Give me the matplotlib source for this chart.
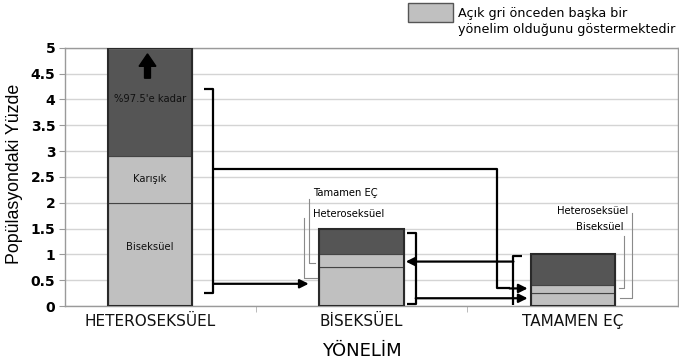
import matplotlib
matplotlib.use("Agg")
import matplotlib.pyplot as plt
from matplotlib.patches import Rectangle, FancyArrow

# ---------------- data ----------------
categories = ["HETEROSEKSÜEL", "BİSEKSÜEL", "TAMAMEN EÇ"]
# stacked segments (bottom -> top), value = segment height
hetero_segments = [2.0, 0.9, 94.6]          # Biseksüel, Karışık, up to 97.5
biseks_segments = [0.75, 0.25, 0.5]         # Heteroseksüel, Tamamen EÇ, own
tamamen_segments = [0.25, 0.15, 0.6]        # Heteroseksüel, Biseksüel, own
segment_kinds = [["light", "light", "dark"],
                 ["light", "light", "dark"],
                 ["light", "light", "dark"]]
yticks = [0, 0.5, 1, 1.5, 2, 2.5, 3, 3.5, 4, 4.5, 5]
ytick_labels = ["0", "0.5", "1", "1.5", "2", "2.5", "3", "3.5", "4", "4.5", "5"]

LIGHT = "#c0c0c0"
DARK = "#555555"
EDGE = "#2a2a2a"

W, H = 679, 361
fig = plt.figure(figsize=(W / 100, H / 100), dpi=100)
ax = fig.add_axes([65 / W, 1 - 306 / H, (678 - 65) / W, (306 - 47.7) / H])

ax.set_xlim(-0.402, 2.496)
ax.set_ylim(0, 5)

# grid
for y in yticks:
    ax.axhline(y, color="#d4d4d4", lw=1, zorder=0)

bar_w = 0.40
all_segments = [hetero_segments, biseks_segments, tamamen_segments]
for i, segs in enumerate(all_segments):
    bottom = 0
    for s, kind in zip(segs, segment_kinds[i]):
        col = LIGHT if kind == "light" else DARK
        ax.bar(i, s, bottom=bottom, width=bar_w, color=col,
               edgecolor="#444444", linewidth=0.8, zorder=2)
        bottom += s
    top = min(bottom, 5)
    ax.add_patch(Rectangle((i - bar_w / 2, 0), bar_w, top, fill=False,
                           edgecolor=EDGE, linewidth=1.5, zorder=3))

# text inside hetero bar
ax.text(0, 4.0, "%97.5'e kadar", ha="center", va="center", fontsize=7.2, color="#111111", zorder=4)
ax.text(0, 2.46, "Karışık", ha="center", va="center", fontsize=7.2, color="#111111", zorder=4)
ax.text(0, 1.15, "Biseksüel", ha="center", va="center", fontsize=7.2, color="#111111", zorder=4)
ax.add_patch(FancyArrow(-0.012, 4.41, 0, 0.47, width=0.028, head_width=0.08,
                        head_length=0.24, length_includes_head=True,
                        color="black", zorder=5))

LW = 1.6
kw = dict(color="black", lw=LW, zorder=6, clip_on=False, solid_capstyle="butt")

def arrow(x0, y0, x1, y1):
    ax.annotate("", xy=(x1, y1), xytext=(x0, y0),
                arrowprops=dict(arrowstyle="-|>", lw=LW, color="black",
                                mutation_scale=13, shrinkA=0, shrinkB=0),
                zorder=6, annotation_clip=False)

# hetero bracket
ax.plot([0.255, 0.298, 0.298, 0.255], [4.2, 4.2, 0.25, 0.25], **kw)
ax.plot([0.298, 1.641, 1.641, 1.70], [2.65, 2.65, 0.34, 0.34], **kw)
arrow(1.70, 0.34, 1.785, 0.34)
arrow(0.298, 0.43, 0.75, 0.43)

# biseksuel bracket
ax.plot([1.214, 1.256, 1.256, 1.214], [1.42, 1.42, 0.045, 0.045], **kw)
arrow(1.256, 0.15, 1.785, 0.15)

# tamamen bracket
ax.plot([1.757, 1.718, 1.718], [0.97, 0.97, 0.01], **kw)
arrow(1.718, 0.86, 1.209, 0.86)

# leader labels
lk = dict(color="#8a8a8a", lw=0.8, zorder=4, clip_on=False)
ax.plot([0.752, 0.752, 0.78], [2.07, 0.83, 0.83], **lk)
ax.plot([0.730, 0.730, 0.788], [1.71, 0.54, 0.54], **lk)
ax.text(0.771, 2.19, "Tamamen EÇ", ha="left", va="center", fontsize=7.2)
ax.text(0.771, 1.78, "Heteroseksüel", ha="left", va="center", fontsize=7.2)

ax.plot([2.278, 2.278, 2.222], [1.80, 0.16, 0.16], **lk)
ax.plot([2.24, 2.24, 2.217], [1.355, 0.354, 0.354], **lk)
ax.text(2.26, 1.84, "Heteroseksüel", ha="right", va="center", fontsize=7.2)
ax.text(2.236, 1.52, "Biseksüel", ha="right", va="center", fontsize=7.2)

# axes styling
for sp in ["left", "bottom", "top", "right"]:
    ax.spines[sp].set_color("#9a9a9a")
    ax.spines[sp].set_linewidth(1)
ax.set_yticks(yticks)
ax.set_yticklabels(ytick_labels, fontsize=10, fontweight="bold")
ax.tick_params(axis="y", length=4, color="#9a9a9a", pad=3)
ax.set_xticks(range(len(categories)))
ax.set_xticklabels(categories, fontsize=11, color="#111111")
ax.tick_params(axis="x", length=0, pad=6)
ax.set_xticks([0.5, 1.5], minor=True)
ax.tick_params(axis="x", which="minor", length=4, color="#b0b0b0")

fig.text(15 / W, 1 - 174 / H, "Popülasyondaki Yüzde", rotation=90, ha="center",
         va="center", fontsize=12.8,
         family=["Liberation Sans", "DejaVu Sans"])
fig.text(362 / W, 1 - 351 / H, "YÖNELİM", ha="center", va="center", fontsize=13)

# legend
fig.add_artist(Rectangle((408 / W, 1 - 21.7 / H), 45 / W, 18.4 / H,
                         transform=fig.transFigure, facecolor=LIGHT,
                         edgecolor="#555555", linewidth=1))
fig.text(458 / W, 1 - 13 / H, "Açık gri önceden başka bir", ha="left", va="center", fontsize=9.2)
fig.text(458 / W, 1 - 30 / H, "yönelim olduğunu göstermektedir", ha="left", va="center", fontsize=9.2)

fig.savefig("out.png", dpi=100)
